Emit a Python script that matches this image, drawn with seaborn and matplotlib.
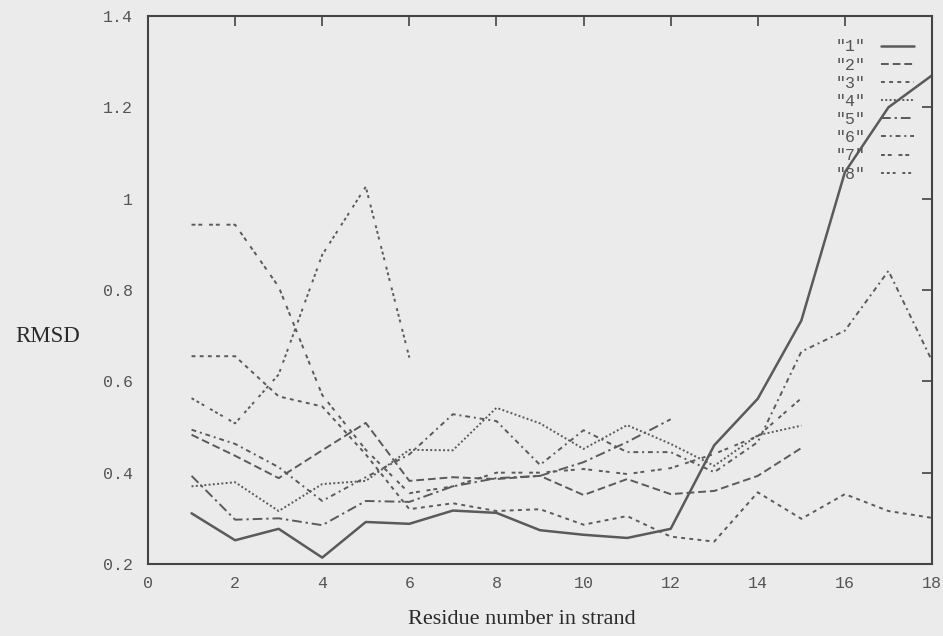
import matplotlib
matplotlib.use("Agg")
import matplotlib.pyplot as plt
from matplotlib.lines import Line2D
import seaborn as sns
import pandas as pd

# RMSD per residue position for each of the eight strands
rmsd_1 = [0.311, 0.252, 0.277, 0.214, 0.292, 0.288, 0.317, 0.312, 0.274, 0.264,
          0.257, 0.277, 0.460, 0.562, 0.733, 1.058, 1.200, 1.270]
rmsd_2 = [0.483, 0.437, 0.388, 0.449, 0.509, 0.382, 0.390, 0.386, 0.393, 0.351,
          0.386, 0.353, 0.360, 0.393, 0.454]
rmsd_3 = [0.655, 0.655, 0.567, 0.545, 0.440, 0.320, 0.333, 0.316, 0.320, 0.286,
          0.305, 0.260, 0.249, 0.357, 0.299, 0.353, 0.316, 0.301]
rmsd_4 = [0.370, 0.379, 0.316, 0.375, 0.382, 0.450, 0.449, 0.542, 0.508, 0.452,
          0.504, 0.463, 0.415, 0.482, 0.503]
rmsd_5 = [0.393, 0.297, 0.300, 0.285, 0.338, 0.336, 0.370, 0.388, 0.393, 0.423,
          0.467, 0.517]
rmsd_6 = [0.494, 0.463, 0.412, 0.338, 0.390, 0.440, 0.528, 0.513, 0.417, 0.493,
          0.445, 0.445, 0.401, 0.467, 0.665, 0.711, 0.842, 0.645]
rmsd_7 = [0.943, 0.943, 0.807, 0.570, 0.450, 0.355, 0.370, 0.400, 0.400, 0.408,
          0.397, 0.410, 0.441, 0.480, 0.563]
rmsd_8 = [0.563, 0.508, 0.615, 0.877, 1.026, 0.652]

series_names = ['"1"', '"2"', '"3"', '"4"', '"5"', '"6"', '"7"', '"8"']
series_values = [rmsd_1, rmsd_2, rmsd_3, rmsd_4, rmsd_5, rmsd_6, rmsd_7, rmsd_8]

x_ticks = [0, 2, 4, 6, 8, 10, 12, 14, 16, 18]
y_ticks = [0.2, 0.4, 0.6, 0.8, 1.0, 1.2, 1.4]
y_tick_labels = ["0.2", "0.4", "0.6", "0.8", "1", "1.2", "1.4"]

rows = []
for name, vals in zip(series_names, series_values):
    for i, v in enumerate(vals, start=1):
        rows.append({"residue": i, "rmsd": v, "strand": name})
df = pd.DataFrame(rows)

bg = "#ebebeb"
ink = "#5a5a5a"
dash_styles = {
    '"1"': "",
    '"2"': (4, 2),
    '"3"': (2, 2.2),
    '"4"': (1, 1.2),
    '"5"': (5, 2, 1.2, 2),
    '"6"': (2.5, 2, 1, 2),
    '"7"': (2, 1.5, 2, 3.5),
    '"8"': (1.5, 1.5, 1.5, 1.5, 1.5, 3.5),
}
palette = {n: ink for n in series_names}

sns.set_style("white")
plt.rcParams["font.family"] = ["Liberation Mono", "DejaVu Sans Mono"]

fig = plt.figure(figsize=(9.43, 6.36), dpi=100, facecolor=bg)
ax = fig.add_axes([148 / 943, 1 - 564 / 636, 784 / 943, 548 / 636])
ax.set_facecolor(bg)

sns.lineplot(data=df, x="residue", y="rmsd", hue="strand", style="strand",
             palette=palette, dashes=dash_styles, linewidth=1.4,
             legend=False, ax=ax, sort=False)
for ln in ax.get_lines():
    ln.set_dash_capstyle("butt")
ax.get_lines()[0].set_linewidth(1.8)

ax.set_xlim(0, 18)
ax.set_ylim(0.2, 1.4)
ax.set_xticks(x_ticks)
ax.set_xticklabels([str(t) for t in x_ticks])
ax.set_yticks(y_ticks)
ax.set_yticklabels(y_tick_labels)
ax.tick_params(axis="both", direction="in", length=7, width=1.2, color="#444444",
               labelsize=12, labelcolor="#555555", top=True, right=True)
ax.tick_params(axis="x", pad=9)
ax.tick_params(axis="y", pad=11)
for sp in ax.spines.values():
    sp.set_visible(True)
    sp.set_color("#444444")
    sp.set_linewidth(1.5)

ax.set_xlabel("Residue number in strand", family="Liberation Serif",
              fontsize=16, color="#2a2a2a", va="center")
ax.set_ylabel("RMSD", family="Liberation Serif", fontsize=16.5,
              color="#2a2a2a", rotation=0, ha="center", va="center")
ax.xaxis.set_label_coords(0.477, -0.1015)
ax.yaxis.set_label_coords(-0.128, 0.416)

handles = []
for n in series_names:
    h = Line2D([0], [0], color=ink, linewidth=1.8 if n == '"1"' else 1.4)
    if dash_styles[n]:
        h.set_dashes(dash_styles[n])
    handles.append(h)
leg = ax.legend(handles, series_names, loc="upper right",
                bbox_to_anchor=(0.9856, 0.9695), frameon=False,
                markerfirst=False, handlelength=2.0, handletextpad=0.9,
                labelspacing=0.19, fontsize=12, borderaxespad=0.0)
for t in leg.get_texts():
    t.set_color("#555555")

fig.savefig("out.png", dpi=100, facecolor=bg)
